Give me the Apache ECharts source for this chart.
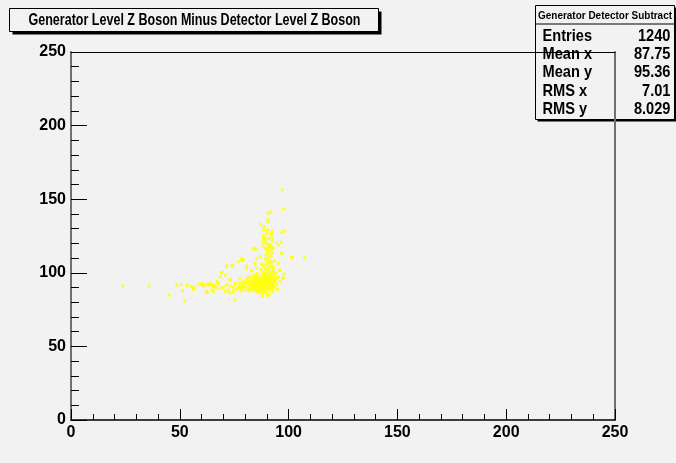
<!DOCTYPE html>
<html>
<head>
<meta charset="utf-8">
<script src="https://cdn.jsdelivr.net/npm/echarts@6/dist/echarts.min.js"></script>
<style>
html,body{margin:0;padding:0;background:#f2f2f2;}
#chart{width:676px;height:463px;}
</style>
</head>
<body>
<div id="chart"></div>
<script>
// ---- data ----
const titleText = "Generator Level Z Boson Minus Detector Level Z Boson";
const statsHeader = "Generator Detector Subtract";
const statsLabels = ["Entries", "Mean x", "Mean y", "RMS x", "RMS y"];
const statsValues = ["1240", "87.75", "95.36", "7.01", "8.029"];
const axisMin = 0, axisMax = 250, axisStep = 50;

const tailPts = [[23.8,91],[35.8,91],[45.2,84.9],[48.6,91.6],[50.6,92.1],[51.2,87.6],[52.1,80.8],[53.4,91.3],[55.3,90.6],[56.2,88.7],[56.5,89.8],[58.5,92.2],[60.3,91.5],[60.8,92.0],[61.2,90.7],[62.4,86.7],[63.4,91.7],[64.7,88.3],[65.4,90.6],[66.1,91.9],[67.0,89.5],[62.4,87.2],[64.0,92.5]];
const leftMidPts = [[60.1,92.8],[62.4,92.2],[63.9,92.8],[65.1,91.7],[66.2,90.6],[67.7,92.4],[68.8,89.5],[70.0,90.1],[71.5,91.7],[72.3,88.3],[73.1,91.0],[74.6,90.1],[75.4,92.8],[76.1,88.8],[77.3,91.0],[78.4,89.5],[68.5,97.4],[70.8,98.5],[69.2,100.1],[71.5,104.6],[74.1,105.3],[76.9,107.5],[78.4,109.8],[79.2,108.7],[80.7,104.6],[83.0,101.4],[83.8,97.8],[85.3,103.1],[77.7,96.3],[75.4,81.5],[62.4,86.5],[65.4,87.2],[70.8,87.2],[73.1,86.1],[74.6,87.2],[67.2,94.0],[72.8,95.1],[73.2,95.1],[69.2,100.3],[71.5,104.1],[74.1,104.8]];
const densePts = [[79.0,92.5],[79.6,90.8],[80.2,93.6],[80.8,89.4],[81.3,91.9],[81.9,94.4],[82.4,90.2],[82.9,92.7],[83.3,88.6],[83.8,95.2],[84.2,91.4],[84.7,89.7],[85.1,93.8],[85.6,90.9],[79.3,88.1],[80.5,95.6],[81.7,87.4],[82.1,96.3],[83.0,93.9],[84.0,87.9],[84.9,96.1],[85.4,88.4],[80.0,91.2],[81.0,92.9],[82.6,91.1],[83.5,90.0],[84.4,94.1],[85.8,92.2],[78.2,90.4],[78.8,94.0],[77.5,93.1],[76.8,89.9],[77.9,87.6],[86.2,87.3],[86.0,95.0],[82.0,88.9],[83.2,97.0],[84.6,98.2],[85.5,99.5],[81.5,97.5],[84.5,92.5],[85.0,91.0],[83.9,93.0],[84.8,95.1],[85.2,96.8],[86.0,98.6]];
const corePts = [[86.3,89.4],[87.1,90.2],[88.0,89.1],[88.9,89.8],[89.7,89.3],[90.6,90.0],[91.5,89.6],[92.3,90.4],[86.5,91.1],[87.4,91.6],[88.2,90.9],[89.1,91.3],[90.0,91.8],[90.8,91.0],[91.7,91.5],[92.6,91.9],[86.2,92.7],[87.0,93.1],[87.9,92.4],[88.7,92.9],[89.6,93.3],[90.4,92.6],[91.3,93.0],[92.1,92.5],[86.6,94.2],[87.5,94.6],[88.4,94.0],[89.2,94.4],[90.1,94.9],[90.9,94.1],[91.8,94.5],[92.7,94.8],[86.4,95.7],[87.2,96.1],[88.1,95.5],[89.0,95.9],[89.8,96.4],[90.7,95.6],[91.6,96.0],[92.4,96.6],[87.3,97.3],[88.5,97.8],[89.4,97.1],[90.3,97.6],[91.2,98.1],[92.0,97.4],[93.0,96.9],[93.3,93.6],[93.1,91.2],[87.8,88.4],[89.5,88.0],[90.9,88.6],[92.2,88.9],[85.9,90.6],[86.8,88.2],[93.8,94.0],[94.5,96.8],[93.5,98.5],[88.2,99.6],[90.6,99.0]];
const rightPts = [[94.0,95.2],[94.6,92.3],[95.3,97.1],[96.2,94.0],[97.4,96.5],[94.3,99.8],[95.8,101.5],[93.8,89.7],[95.0,88.6],[98.0,99.2],[86.0,86.5],[87.5,85.8],[88.6,87.0],[89.9,86.2],[91.2,85.4],[90.2,84.5],[88.0,84.0],[92.5,87.1],[85.3,88.3],[101.7,110.3],[107.4,110.3]];
const upperPts = [[78.4,108.7],[80.7,102.6],[83.8,116.2],[85.3,109.8],[86.9,110.9],[84.6,106.4],[93.0,104.1],[96.0,101.9],[97.6,96.3],[101.4,110.3],[95.3,106.4],[96.8,113.2],[88.6,98.5],[89.8,99.3],[91.0,98.8],[92.2,99.9],[88.9,100.8],[90.4,101.4],[91.7,100.6],[92.8,102.1],[89.3,102.9],[90.8,103.5],[91.9,104.2],[88.5,104.8],[89.9,105.6],[91.3,106.3],[92.5,106.9],[90.1,107.8],[91.6,108.5],[89.2,109.4],[90.7,110.2],[92.0,111.0],[89.7,112.1],[91.1,113.0],[90.3,114.4],[91.9,115.1],[89.5,116.3],[90.9,117.5],[91.4,119.0],[88.2,118.2],[92.6,113.6],[87.6,106.0],[87.3,102.0],[93.4,100.3],[93.6,108.0],[92.9,116.8]];
const topPts = [[97.1,156.3],[97.6,143.3],[90.7,140.4],[91.9,141.1],[90.4,135.9],[90.7,134.2],[87.2,132.9],[88.8,131.3],[88.4,129.1],[90.4,129.1],[92.5,128.6],[92.2,126.8],[90.2,126.8],[96.8,127.5],[98.3,128.4],[88.4,125.2],[89.2,123.4],[88.4,122.7],[89.9,122.3],[91.1,123.4],[92.5,124.1],[92.5,121.6],[94.5,120.7],[96.5,120.7],[88.4,120.7],[89.9,119.6],[91.1,118.9],[91.9,118.2],[95.3,118.9],[92.2,116.6],[90.7,116.6],[89.2,116.6],[83.8,116.6],[85.0,116.2]];

const allPts = [].concat(tailPts, leftMidPts, densePts, corePts, rightPts, upperPts, topPts);

const FONT = "'Liberation Sans',Arial,sans-serif";

// horizontal squeeze so the bold text takes the narrow (condensed) width seen in the picture
const measureCtx = document.createElement('canvas').getContext('2d');
function fitScale(text, font, targetWidth) {
  measureCtx.font = font;
  const w = measureCtx.measureText(text).width;
  return w > 0 ? targetWidth / w : 1;
}
function textEl(text, font, x, y, align, scale) {
  return {type: 'text', x: x, y: y, scaleX: scale, scaleY: 1,
    style: {x: 0, y: 0, text: text, fill: '#000', font: font, textAlign: align, textVerticalAlign: 'middle'}};
}

const chart = echarts.init(document.getElementById('chart'), null, {renderer: 'canvas'});

const rowFont = 'bold 17px ' + FONT;
const rowScale = 0.86;
const rowY = [31, 49, 67, 86, 104];
const headerFont = 'bold 11px ' + FONT;
const statsChildren = [
  {type: 'rect', shape: {x: 2, y: 2, width: 139, height: 114}, style: {fill: '#000'}},
  {type: 'rect', shape: {x: 0, y: 0, width: 139, height: 114}, style: {fill: '#f2f2f2', stroke: '#000', lineWidth: 1}},
  {type: 'line', shape: {x1: 0, y1: 18.5, x2: 139, y2: 18.5}, style: {stroke: '#000', lineWidth: 1}},
  textEl(statsHeader, headerFont, 69.5, 10, 'center', fitScale(statsHeader, headerFont, 134))
];
statsLabels.forEach(function (lab, i) {
  statsChildren.push(textEl(lab, rowFont, 7, rowY[i], 'left', rowScale));
  statsChildren.push(textEl(statsValues[i], rowFont, 135, rowY[i], 'right', rowScale));
});

const titleFont = 'bold 17px ' + FONT;

const option = {
  backgroundColor: '#f2f2f2',
  animation: false,
  grid: {left: 71, right: 61, top: 52, bottom: 43, show: false},
  xAxis: [{
    type: 'value', min: axisMin, max: axisMax, interval: axisStep, position: 'bottom',
    axisLine: {show: true, onZero: false, lineStyle: {color: '#000', width: 1.5}},
    axisTick: {show: true, inside: true, length: 11, lineStyle: {color: '#000', width: 1}},
    minorTick: {show: true, splitNumber: 5, length: 6, lineStyle: {color: '#000', width: 1}},
    axisLabel: {color: '#000', fontFamily: FONT, fontWeight: 'bold', fontSize: 16, margin: 5},
    splitLine: {show: false}
  }, {
    type: 'value', min: axisMin, max: axisMax, position: 'top',
    axisLine: {show: true, onZero: false, lineStyle: {color: '#000', width: 1}},
    axisTick: {show: false}, axisLabel: {show: false}, splitLine: {show: false}
  }],
  yAxis: [{
    type: 'value', min: axisMin, max: axisMax, interval: axisStep, position: 'left',
    axisLine: {show: true, onZero: false, lineStyle: {color: '#707070', width: 2}},
    axisTick: {show: true, inside: true, length: 16, lineStyle: {color: '#000', width: 1}},
    minorTick: {show: true, splitNumber: 5, length: 8, lineStyle: {color: '#000', width: 1}},
    axisLabel: {color: '#000', fontFamily: FONT, fontWeight: 'bold', fontSize: 16, margin: 5},
    splitLine: {show: false}
  }, {
    type: 'value', min: axisMin, max: axisMax, position: 'right',
    axisLine: {show: true, onZero: false, lineStyle: {color: '#707070', width: 2}},
    axisTick: {show: false}, axisLabel: {show: false}, splitLine: {show: false}
  }],
  series: [{
    type: 'scatter', xAxisIndex: 0, yAxisIndex: 0,
    data: allPts, symbol: 'rect', symbolSize: 3,
    itemStyle: {color: '#ffff00'},
    emphasis: {disabled: true}
  }],
  graphic: [
    {type: 'group', left: 9, top: 8, z: 100, children: [
      {type: 'rect', shape: {x: 3, y: 3, width: 369, height: 23}, style: {fill: '#000'}},
      {type: 'rect', shape: {x: 0, y: 0, width: 369, height: 23}, style: {fill: '#f2f2f2', stroke: '#000', lineWidth: 1}},
      textEl(titleText, titleFont, 185, 12, 'center', fitScale(titleText, titleFont, 332))
    ]},
    {type: 'group', left: 533, top: 5, z: 100, children: statsChildren}
  ]
};
chart.setOption(option);
</script>
</body>
</html>
